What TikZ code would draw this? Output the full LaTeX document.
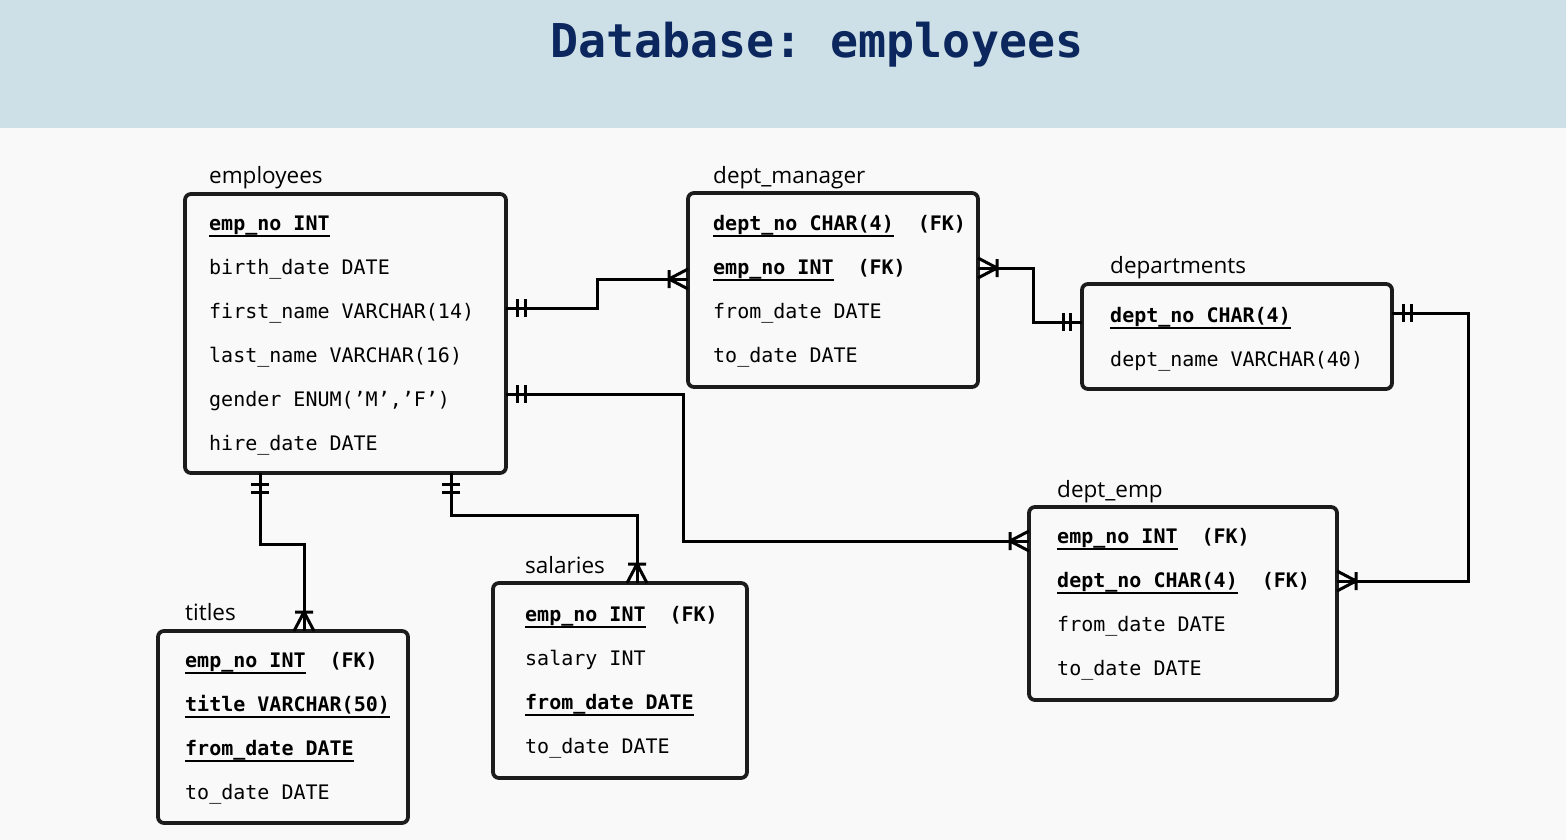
\documentclass[tikz,border=0pt]{standalone}
\usepackage{fontspec}
\setmainfont{Open Sans}
\setmonofont{DejaVu Sans Mono}
\usepackage{tikz}
\usetikzlibrary{arrows.meta}

\definecolor{headbg}{HTML}{CDDFE7}
\definecolor{pagebg}{HTML}{F9F9F9}
\definecolor{titleblue}{HTML}{0B275E}
\definecolor{boxline}{HTML}{1C1C1C}

% crow's foot: many (with a bar)
\pgfdeclarearrow{
  name = Crow,
  defaults = {length = 19pt, width = 20pt},
  setup code = {
    \pgfarrowssettipend{0pt}
    \pgfarrowssetlineend{0pt}
    \pgfarrowssetbackend{-\pgfarrowlength}
    \pgfarrowssetvisualbackend{-\pgfarrowlength}
    \pgfarrowshullpoint{0pt}{.5\pgfarrowwidth}
    \pgfarrowshullpoint{0pt}{-.5\pgfarrowwidth}
    \pgfarrowshullpoint{-\pgfarrowlength}{.5\pgfarrowwidth}
    \pgfarrowshullpoint{-\pgfarrowlength}{-.5\pgfarrowwidth}
    \pgfarrowssavethe\pgfarrowlength
    \pgfarrowssavethe\pgfarrowwidth
  },
  drawing code = {
    \pgfsetdash{}{0pt}
    \pgfsetroundjoin
    \pgfpathmoveto{\pgfqpoint{0pt}{.5\pgfarrowwidth}}
    \pgfpathlineto{\pgfqpoint{-\pgfarrowlength}{0pt}}
    \pgfpathlineto{\pgfqpoint{0pt}{-.5\pgfarrowwidth}}
    \pgfpathmoveto{\pgfqpoint{-\pgfarrowlength}{.45\pgfarrowwidth}}
    \pgfpathlineto{\pgfqpoint{-\pgfarrowlength}{-.45\pgfarrowwidth}}
    \pgfusepathqstroke
  },
  parameters = {\the\pgfarrowlength,\the\pgfarrowwidth},
}

% one and only one: two bars
\pgfdeclarearrow{
  name = One,
  defaults = {length = 19pt, width = 18pt},
  setup code = {
    \pgfarrowssettipend{0pt}
    \pgfarrowssetlineend{0pt}
    \pgfarrowssetbackend{-\pgfarrowlength}
    \pgfarrowssetvisualbackend{-\pgfarrowlength}
    \pgfarrowshullpoint{0pt}{.5\pgfarrowwidth}
    \pgfarrowshullpoint{0pt}{-.5\pgfarrowwidth}
    \pgfarrowshullpoint{-\pgfarrowlength}{.5\pgfarrowwidth}
    \pgfarrowshullpoint{-\pgfarrowlength}{-.5\pgfarrowwidth}
    \pgfarrowssavethe\pgfarrowlength
    \pgfarrowssavethe\pgfarrowwidth
  },
  drawing code = {
    \pgfsetdash{}{0pt}
    \pgfpathmoveto{\pgfqpoint{-.58\pgfarrowlength}{.5\pgfarrowwidth}}
    \pgfpathlineto{\pgfqpoint{-.58\pgfarrowlength}{-.5\pgfarrowwidth}}
    \pgfpathmoveto{\pgfqpoint{-\pgfarrowlength}{.5\pgfarrowwidth}}
    \pgfpathlineto{\pgfqpoint{-\pgfarrowlength}{-.5\pgfarrowwidth}}
    \pgfusepathqstroke
  },
  parameters = {\the\pgfarrowlength,\the\pgfarrowwidth},
}

\newsavebox{\keybox}
\newcommand{\pkey}[1]{\sbox{\keybox}{\bfseries #1}%
  \rlap{\vrule width \wd\keybox height -5.2pt depth 7.4pt}\usebox{\keybox}}
\newcommand{\fkey}{\hspace{1.2em}\textbf{(FK)}}

\tikzset{
    entity/.style={
        draw=boxline, line width=3.8pt, rounded corners=6pt,
        anchor=north west, inner sep=0pt, outer sep=0pt
    },
    field/.style={
        anchor=base west, inner sep=0pt,
        font=\fontsize{20}{24}\selectfont\ttfamily
    },
    tablename/.style={
        anchor=base west, inner sep=0pt,
        font=\fontsize{22.5}{26}\selectfont
    },
    rel/.style={draw=black, line width=3pt},
    one-many/.style={rel, arrows={One-Crow}},
    many-one/.style={rel, arrows={Crow-One}}
}

\begin{document}
\begin{tikzpicture}[x=1pt, y=-1pt]
    \useasboundingbox (0,0) rectangle (1566,840);
    \fill[pagebg] (0,0) rectangle (1566,840);
    \fill[headbg] (0,0) rectangle (1566,128);
    \node[anchor=base west, inner sep=0pt, text=titleblue,
          font=\fontsize{46.6}{50}\selectfont\ttfamily\bfseries] (title) at (550,58)
          {Database: employees};

    % tables
    \node[entity, minimum width=321pt, minimum height=279pt] (employees) at (185,194) {};
    \node[tablename] (employees-name) at (209,183) {employees};
    \foreach \txt [count=\i] in {{\pkey{emp\_no INT}}, birth\_date DATE,
        first\_name VARCHAR(14), last\_name VARCHAR(16),
        {gender ENUM(’M’,’F’)}, hire\_date DATE}
        \node[field] (employees-\i) at (209,186+44*\i) {\txt};

    \node[entity, minimum width=290pt, minimum height=194pt] (dept_manager) at (688,193) {};
    \node[tablename] (dept_manager-name) at (713,183) {dept\_manager};
    \foreach \txt [count=\i] in {{\pkey{dept\_no CHAR(4)}\fkey}, {\pkey{emp\_no INT}\fkey},
        from\_date DATE, to\_date DATE}
        \node[field] (dept_manager-\i) at (713,186+44*\i) {\txt};

    \node[entity, minimum width=310pt, minimum height=105pt] (departments) at (1082,284) {};
    \node[tablename] (departments-name) at (1110,273) {departments};
    \foreach \txt [count=\i] in {{\pkey{dept\_no CHAR(4)}}, dept\_name VARCHAR(40)}
        \node[field] (departments-\i) at (1110,278+44*\i) {\txt};

    \node[entity, minimum width=308pt, minimum height=193pt] (dept_emp) at (1029,507) {};
    \node[tablename] (dept_emp-name) at (1057,497) {dept\_emp};
    \foreach \txt [count=\i] in {{\pkey{emp\_no INT}\fkey}, {\pkey{dept\_no CHAR(4)}\fkey},
        from\_date DATE, to\_date DATE}
        \node[field] (dept_emp-\i) at (1057,499+44*\i) {\txt};

    \node[entity, minimum width=254pt, minimum height=195pt] (salaries) at (493,583) {};
    \node[tablename] (salaries-name) at (525,573) {salaries};
    \foreach \txt [count=\i] in {{\pkey{emp\_no INT}\fkey}, salary INT,
        {\pkey{from\_date DATE}}, to\_date DATE}
        \node[field] (salaries-\i) at (525,577+44*\i) {\txt};

    \node[entity, minimum width=250pt, minimum height=192pt] (titles) at (158,631) {};
    \node[tablename] (titles-name) at (185,620) {titles};
    \foreach \txt [count=\i] in {{\pkey{emp\_no INT}\fkey}, {\pkey{title VARCHAR(50)}},
        {\pkey{from\_date DATE}}, to\_date DATE}
        \node[field] (titles-\i) at (185,623+44*\i) {\txt};

    % relations
    \draw[one-many] (employees.east |- 0,308) -- (597,308) |- (dept_manager.west |- 0,279);
    \draw[one-many] (employees.east |- 0,394) -- (683,394) |- (dept_emp.west |- 0,541);
    \draw[many-one] (dept_manager.east |- 0,268) -- (1033,268) |- (departments.west |- 0,322);
    \draw[one-many] (departments.east |- 0,313) -- (1468,313) |- (dept_emp.east |- 0,581);
    \draw[one-many] (employees.south -| 260,0) -- (260,544) -| (titles.north -| 304,0);
    \draw[one-many] (employees.south -| 451,0) -- (451,515) -| (salaries.north -| 637,0);
\end{tikzpicture}
\end{document}
